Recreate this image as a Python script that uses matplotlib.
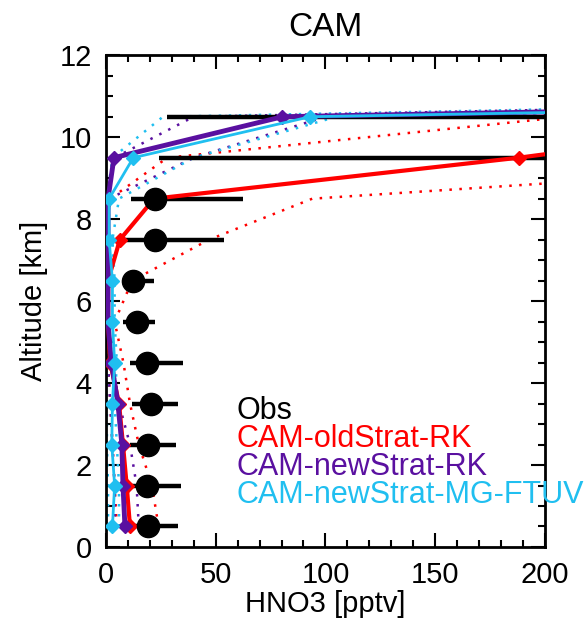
import numpy as np
import matplotlib.pyplot as plt
from matplotlib.ticker import MultipleLocator

plt.rcParams['font.family'] = ['Liberation Sans', 'DejaVu Sans']

# altitude levels [km]
alt = [0.5, 1.5, 2.5, 3.5, 4.5, 5.5, 6.5, 7.5, 8.5, 9.5, 10.5, 11.5]

# observations (mean, low, high) [pptv]
obs_alt = [0.5, 1.5, 2.5, 3.5, 4.5, 5.5, 6.5, 7.5, 8.5, 9.5, 10.5]
obs_mean = [19, 18.7, 19, 20.5, 18.7, 14, 12.5, 22.5, 22.5, 300, 300]
obs_lo = [12, 10, 11, 12, 11, 8, 8, 8.7, 11.4, 24, 28]
obs_hi = [33, 34, 32, 33, 35, 22.5, 22, 54, 62.5, 400, 400]

# models: solid = mean, dotted = spread
red = [11, 9.5, 7.8, 6, 2, 1, 1, 6.4, 22, 188, 330, 2000]
red_lo = [5, 4, 3, 2, 1, 0.5, 0.5, 0.5, 2, 28, 210, 1500]
red_hi = [24, 21, 15, 11, 8, 4, 12, 47, 94, 380, 600, 2000]

purple = [8.7, 7.8, 7.3, 5.5, 2.5, 1, 1, 1, 1, 3.7, 80.4, 1100]
purple_lo = [4, 4, 3, 2, 1, 0.5, 0.5, 0.5, 0.5, 4, 40, 1000]
purple_hi = [15, 14, 11, 6, 3, 1, 1, 1, 1.5, 40, 100, 1200]

cyan = [3, 4, 2.7, 3, 4, 3, 3, 1.5, 1.5, 12.5, 93, 1150]
cyan_lo = [1, 1, 0.5, 0.5, 0.5, 0.5, 0.5, 0.5, 0.5, 3, 26, 1000]
cyan_hi = [6, 6, 5, 4, 5, 4, 4, 3, 6, 40, 105, 1200]

labels = ["Obs", "CAM-oldStrat-RK", "CAM-newStrat-RK", "CAM-newStrat-MG-FTUV"]
c_red = "#ff0000"
c_purple = "#5a10a0"
c_cyan = "#20bff0"

fig = plt.figure(figsize=(5.88, 6.28), dpi=100)
ax = fig.add_axes([0.180, 0.129, 0.747, 0.783])

dot = (0, (1, 3))
for lo, hi, c in [(red_lo, red_hi, c_red), (purple_lo, purple_hi, c_purple),
                  (cyan_lo, cyan_hi, c_cyan)]:
    ax.plot(lo, alt, color=c, lw=1.8, ls=dot, zorder=2)
    ax.plot(hi, alt, color=c, lw=1.8, ls=dot, zorder=2)

# obs error bars
ax.hlines(obs_alt, obs_lo, obs_hi, color="black", lw=3.2, zorder=3)

ax.plot(red, alt, color=c_red, lw=3, marker="D", ms=7, zorder=4)
ax.plot(purple, alt, color=c_purple, lw=3.5, marker="D", ms=7, zorder=4)
ax.plot(cyan, alt, color=c_cyan, lw=2, marker="D", ms=7, zorder=4)

ax.plot(obs_mean, obs_alt, "o", color="black", ms=16, zorder=5)

ax.set_xlim(0, 200)
ax.set_ylim(0, 12)
ax.xaxis.set_major_locator(MultipleLocator(50))
ax.xaxis.set_minor_locator(MultipleLocator(10))
ax.yaxis.set_major_locator(MultipleLocator(2))
ax.yaxis.set_minor_locator(MultipleLocator(0.5))
ax.tick_params(which="both", direction="in", top=True, right=True, width=1.5)
ax.tick_params(which="major", length=10, labelsize=21, pad=10)
ax.tick_params(which="minor", length=5)
for s in ax.spines.values():
    s.set_linewidth(2)

ax.set_xlabel("HNO3 [pptv]", fontsize=21, labelpad=1)
ax.set_ylabel("Altitude [km]", fontsize=21, labelpad=8)
ax.set_title("CAM", fontsize=24, pad=14)

colors = ["black", c_red, c_purple, c_cyan]
for i, (lab, c) in enumerate(zip(labels, colors)):
    ax.text(0.298, 0.276 - i * 0.057, lab, color=c, fontsize=22,
            transform=ax.transAxes, va="center", ha="left", clip_on=False, zorder=6)

fig.savefig("out.png", dpi=100)
